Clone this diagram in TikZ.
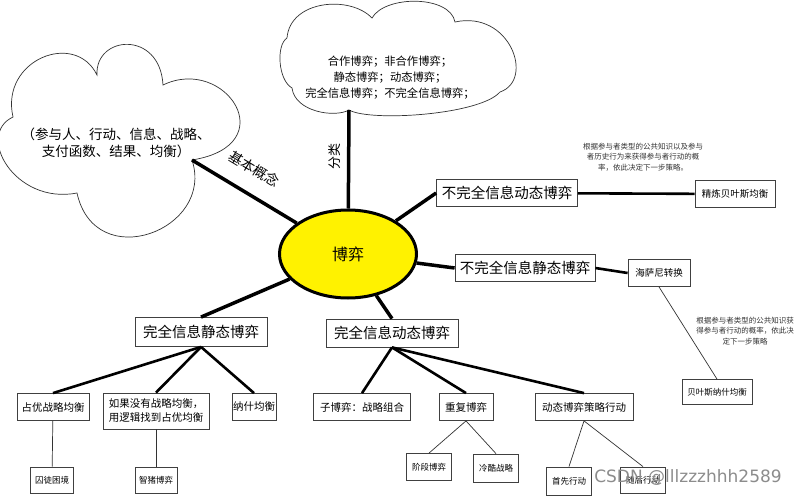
\documentclass[tikz,border=0pt]{standalone}
\usepackage{fontspec}
\setmainfont{Noto Sans CJK SC}
\newfontfamily\markfont{DejaVu Sans}
\usetikzlibrary{shapes.geometric}

\begin{document}
\begin{tikzpicture}[x=1pt, y=-1pt,
    big/.style = {draw=black!75, line width=0.8pt, fill=white, inner sep=0pt, font=\fontsize{14.5}{16}\selectfont},
    mid/.style = {draw=black!75, line width=0.8pt, fill=white, inner sep=0pt, align=center, font=\fontsize{10.5}{14}\selectfont},
    low/.style = {draw=black!75, line width=0.8pt, fill=white, inner sep=0pt, font=\fontsize{8.5}{10}\selectfont},
    note/.style = {align=center, text=black!80, font=\fontsize{7.5}{10.5}\selectfont},
    puff/.style = {draw=black!80, line width=0.7pt},
    fat/.style = {line width=3.5pt},
    link/.style = {line width=2.6pt},
    twig/.style = {line width=0.7pt, black!80}]

    \path[use as bounding box, fill=white] (0,0) rectangle (800,495);

    % clouds
    \draw[puff] (13,117) .. controls (0,60) and (75,30) .. (97,75)
        .. controls (95,35) and (160,30) .. (163,85)
        .. controls (225,55) and (285,145) .. (192,160)
        .. controls (215,230) and (95,275) .. (77,193)
        .. controls (15,205) and (-25,135) .. cycle;
    \draw[puff] (287,38) .. controls (290,0) and (350,-5) .. (372,18)
        .. controls (385,-5) and (450,-5) .. (455,22)
        .. controls (510,10) and (535,80) .. (500,92)
        .. controls (480,115) and (370,122) .. (349,110)
        .. controls (335,118) and (295,112) .. (292,88)
        .. controls (278,80) and (276,45) .. cycle;
    \node[align=center, font=\fontsize{13.5}{17}\selectfont] (basictext) at (116,143)
        {（参与人、行动、信息、战略、\\支付函数、结果、均衡）};
    \node[align=center, font=\fontsize{11.3}{16}\selectfont] (sorttext) at (390,78)
        {合作博弈；非合作博弈；\\静态博弈；动态博弈；\\完全信息博弈；不完全信息博弈；};
    \coordinate (basicend) at (192,160);
    \coordinate (sortend) at (349,110);

    % centre
    \node[ellipse, draw, line width=3pt, fill=yellow, minimum width=137, minimum height=88,
        font=\fontsize{16}{18}\selectfont] (game) at (348,254) {博弈};

    % main boxes
    \node[big, minimum width=141, minimum height=27] (dynin) at (507,193) {不完全信息动态博弈};
    \node[big, minimum width=140, minimum height=27] (statin) at (525,268) {不完全信息静态博弈};
    \node[big, minimum width=132, minimum height=29] (statc) at (201,332) {完全信息静态博弈};
    \node[big, minimum width=132, minimum height=28] (dync) at (392,333) {完全信息动态博弈};

    \node[mid, font=\fontsize{9.5}{11}\selectfont, minimum width=80, minimum height=27] (refine) at (735,194) {精炼贝叶斯均衡};
    \node[mid, font=\fontsize{9.5}{11}\selectfont, minimum width=62, minimum height=27] (harsanyi) at (659,273) {海萨尼转换};
    \node[low, minimum width=70, minimum height=25] (bayes) at (717,392) {贝叶斯纳什均衡};

    \node[mid, minimum width=72, minimum height=27] (dom) at (53,407) {占优战略均衡};
    \node[mid, minimum width=106, minimum height=36] (nodom) at (156,411) {如果没有战略均衡，\\用逻辑找到占优均衡};
    \node[mid, minimum width=44, minimum height=27] (nash) at (254,407) {纳什均衡};
    \node[mid, minimum width=97, minimum height=27] (sub) at (362,407) {子博弈：战略组合};
    \node[mid, minimum width=54, minimum height=27] (repeat) at (466,407) {重复博弈};
    \node[mid, minimum width=98, minimum height=27] (dynact) at (584,407) {动态博弈策略行动};

    \node[low, minimum width=43, minimum height=26] (prison) at (52,480) {囚徒困境};
    \node[low, minimum width=42, minimum height=26] (pig) at (156,480) {智猪博弈};
    \node[low, minimum width=45, minimum height=27] (stage) at (429,467) {阶段博弈};
    \node[low, minimum width=45, minimum height=28] (grim) at (496,468) {冷酷战略};
    \node[low, minimum width=45, minimum height=28] (first) at (569,481) {首先行动};
    \node[low, minimum width=45, minimum height=26] (later) at (643,480) {随后行动};

    % notes
    \node[note] (dynnote) at (643,157) {根据参与者类型的公共知识以及参与\\者历史行为来获得参与者行动的概\\率，依此决定下一步策略。};
    \node[note] (statnote) at (745,331) {根据参与者类型的公共知识获\\得参与者行动的概率，依此决\\定下一步策略};

    % connectors
    \draw[fat] (basicend) -- (game);
    \draw[fat] (sortend) -- (game);
    \draw[fat] (game) -- (dynin.west);
    \draw[fat] (game) -- (statin.west);
    \draw[fat] (game) -- (statc.north);
    \draw[fat] (game) -- (dync.north);
    \draw[link] (dynin) -- (refine);
    \draw[link] (statin.east) -- (harsanyi.west);
    \draw[twig] (harsanyi.south) -- (bayes.north);

    \draw[link] (statc.south) -- (dom.north);
    \draw[link] (statc.south) -- (nodom.north);
    \draw[link] (statc.south) -- (nash.north);
    \draw[link] (dync.south) -- (sub.north);
    \draw[link] (dync.south) -- (repeat.north);
    \draw[link] (dync.south) -- (dynact.north);

    \draw[twig] (dom) -- (prison);
    \draw[twig] (nodom) -- (pig);
    \draw[twig] (repeat.south) -- (stage.north);
    \draw[twig] (repeat.south) -- (grim.north);
    \draw[twig] (dynact.south) -- (first.north);
    \draw[twig] (dynact.south) -- (later.north);

    % labels on the branches
    \node[rotate=-31, font=\fontsize{14}{16}\selectfont] (basiclabel) at (254,169) {基本概念};
    \node[rotate=90, font=\fontsize{13}{15}\selectfont] (sortlabel) at (335,156) {分类};

    \node[text=black!45, font=\markfont\fontsize{17}{19}\selectfont] (mark) at (688,478) {CSDN @lllzzzhhh2589};
\end{tikzpicture}
\end{document}
